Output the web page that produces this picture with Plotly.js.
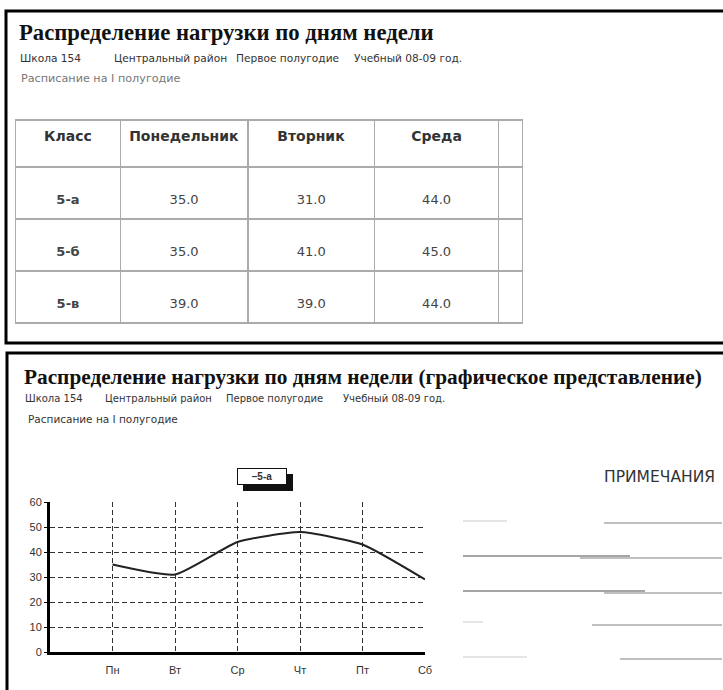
<!DOCTYPE html>
<html>
<head>
<meta charset="utf-8">
<script src="https://cdn.plot.ly/plotly-3.0.1.min.js"></script>
<style>html,body{margin:0;padding:0;background:#fff;}#chart{width:723px;height:690px;}</style>
</head>
<body>
<div id="chart"></div>
<script>
// ---- data ----
var tableHeaders = ['Класс', 'Понедельник', 'Вторник', 'Среда', ''];
var classes = ['5-а', '5-б', '5-в'];
var monday = [35.0, 35.0, 39.0];
var tuesday = [31.0, 41.0, 39.0];
var wednesday = [44.0, 45.0, 44.0];

var days = ['Пн', 'Вт', 'Ср', 'Чт', 'Пт', 'Сб'];
var seriesName = '5-а';
var seriesValues = [35, 31, 44, 48, 43, 29];

var reportTitle = 'Распределение нагрузки по дням недели';
var chartTitle = 'Распределение нагрузки по дням недели (графическое представление)';
var subtitleParts = ['Школа 154', 'Центральный район', 'Первое полугодие', 'Учебный 08-09 год.'];
var scheduleNote = 'Расписание на I полугодие';
var notesTitle = 'ПРИМЕЧАНИЯ';

// ---- helpers (pixel -> paper) ----
var W = 723, H = 690;
function px(x){ return x / W; }
function py(y){ return 1 - y / H; }
// a leading blank line pushes the cell text towards the vertical middle of the tall rows
function cellText(arr, bold){
  return arr.map(function(v){
    var s = (typeof v === 'number') ? v.toFixed(1) : v;
    return '\u00a0<br>' + (bold ? '<b>' + s + '</b>' : s);
  });
}
function textAnn(text, x, y, family, size, color, anchor){
  return {text: text, x: px(x), y: py(y), xref: 'paper', yref: 'paper', xanchor: anchor || 'left', yanchor: 'middle',
          showarrow: false, font: {family: family, size: size, color: color}};
}

var tableTrace = {
  type: 'table',
  domain: {x: [px(15.5), px(523)], y: [py(330), py(120)]},
  columnwidth: [105, 127.5, 127, 124, 24],
  header: {
    values: tableHeaders.map(function(h){ return '<b>' + h + '</b>'; }),
    align: 'center',
    height: 47,
    line: {color: '#ababab', width: 1.5},
    fill: {color: 'white'},
    font: {family: 'DejaVu Sans', size: 14, color: '#333'}
  },
  cells: {
    values: [cellText(classes, true), cellText(monday), cellText(tuesday), cellText(wednesday), classes.map(function(){ return ''; })],
    align: 'center',
    height: 52,
    line: {color: '#ababab', width: 1.5},
    fill: {color: 'white'},
    font: {family: 'DejaVu Sans', size: 13, color: '#444'}
  }
};

var lineTrace = {
  type: 'scatter',
  mode: 'lines',
  name: seriesName,
  x: days,
  y: seriesValues,
  line: {color: '#222', width: 2, shape: 'spline', smoothing: 0.5},
  xaxis: 'x',
  yaxis: 'y'
};

var gridCol = '#333';
var topSubX = [18, 112, 234, 352];
var lowSubX = [23, 103, 224, 341];
var annotations = [
  textAnn('<b>' + reportTitle + '</b>', 17, 33, 'Liberation Serif', 22.7, '#111'),
  textAnn(scheduleNote, 19, 78, 'DejaVu Sans', 11.2, '#777'),
  textAnn('<b>' + chartTitle + '</b>', 22, 377, 'Liberation Serif', 21.3, '#111'),
  textAnn(scheduleNote, 26, 419, 'DejaVu Sans', 10.5, '#333'),
  textAnn(notesTitle, 717, 477, 'DejaVu Sans', 15.5, '#333', 'right'),
  // legend box
  {text: '<b>\u2013' + seriesName + '</b>', x: px(237), y: py(468), xref: 'paper', yref: 'paper', xanchor: 'left', yanchor: 'top', showarrow: false,
   width: 46, height: 13, borderpad: 1, borderwidth: 1, bordercolor: '#111', bgcolor: 'white',
   font: {family: 'Liberation Sans', size: 10, color: '#333'}}
];
subtitleParts.forEach(function(p, i){
  annotations.push(textAnn(p, topSubX[i], 58, 'DejaVu Sans', 10.6, '#333'));
  annotations.push(textAnn(p, lowSubX[i], 398, 'DejaVu Sans', 10, '#333'));
});

var layout = {
  width: W, height: H, autosize: false,
  margin: {l: 0, r: 0, t: 0, b: 0, pad: 0},
  paper_bgcolor: 'white', plot_bgcolor: 'white',
  font: {family: 'Liberation Sans', color: '#222'},
  showlegend: false,
  xaxis: {
    domain: [px(50), px(425)],
    type: 'category', range: [-1, 5],
    showgrid: true, gridcolor: gridCol, griddash: '5px,3px', gridwidth: 1,
    showline: true, linecolor: '#000', linewidth: 3,
    zeroline: false, ticks: '', ticklabelstandoff: 6,
    tickfont: {size: 11, color: '#333'},
    fixedrange: true, anchor: 'y'
  },
  yaxis: {
    domain: [py(652), py(502)],
    range: [0, 60], dtick: 10, tick0: 0,
    showgrid: true, gridcolor: gridCol, griddash: '5px,3px', gridwidth: 1,
    showline: true, linecolor: '#000', linewidth: 3,
    zeroline: false, ticks: 'outside', ticklen: 3, tickcolor: '#000',
    tickfont: {size: 11, color: '#333'},
    fixedrange: true, anchor: 'x'
  },
  annotations: annotations,
  shapes: [
    // panel frames
    {type: 'rect', xref: 'paper', yref: 'paper', x0: px(6), x1: px(730), y0: py(343), y1: py(11), line: {color: '#000', width: 3}},
    {type: 'rect', xref: 'paper', yref: 'paper', x0: px(7), x1: px(730), y0: py(700), y1: py(353), line: {color: '#000', width: 3}},
    // legend shadow
    {type: 'rect', xref: 'paper', yref: 'paper', x0: px(243), x1: px(293), y0: py(491), y1: py(474), fillcolor: '#111', line: {width: 0}, layer: 'above'},
    // notes lines
    {type: 'line', xref: 'paper', yref: 'paper', x0: px(463), x1: px(507), y0: py(521), y1: py(521), line: {color: '#ddd', width: 1.5}},
    {type: 'line', xref: 'paper', yref: 'paper', x0: px(604), x1: px(722), y0: py(523), y1: py(523), line: {color: '#aaa', width: 1.5}},
    {type: 'line', xref: 'paper', yref: 'paper', x0: px(463), x1: px(630), y0: py(556), y1: py(556), line: {color: '#888', width: 1.5}},
    {type: 'line', xref: 'paper', yref: 'paper', x0: px(580), x1: px(722), y0: py(558), y1: py(558), line: {color: '#aaa', width: 1.5}},
    {type: 'line', xref: 'paper', yref: 'paper', x0: px(463), x1: px(645), y0: py(591), y1: py(591), line: {color: '#888', width: 1.5}},
    {type: 'line', xref: 'paper', yref: 'paper', x0: px(604), x1: px(722), y0: py(593), y1: py(593), line: {color: '#aaa', width: 1.5}},
    {type: 'line', xref: 'paper', yref: 'paper', x0: px(463), x1: px(483), y0: py(622), y1: py(622), line: {color: '#ddd', width: 1.5}},
    {type: 'line', xref: 'paper', yref: 'paper', x0: px(592), x1: px(722), y0: py(625), y1: py(625), line: {color: '#aaa', width: 1.5}},
    {type: 'line', xref: 'paper', yref: 'paper', x0: px(463), x1: px(527), y0: py(657), y1: py(657), line: {color: '#ddd', width: 1.5}},
    {type: 'line', xref: 'paper', yref: 'paper', x0: px(620), x1: px(722), y0: py(659), y1: py(659), line: {color: '#aaa', width: 1.5}}
  ]
};

Plotly.newPlot('chart', [tableTrace, lineTrace], layout, {displayModeBar: false, staticPlot: true});
</script>
</body>
</html>
